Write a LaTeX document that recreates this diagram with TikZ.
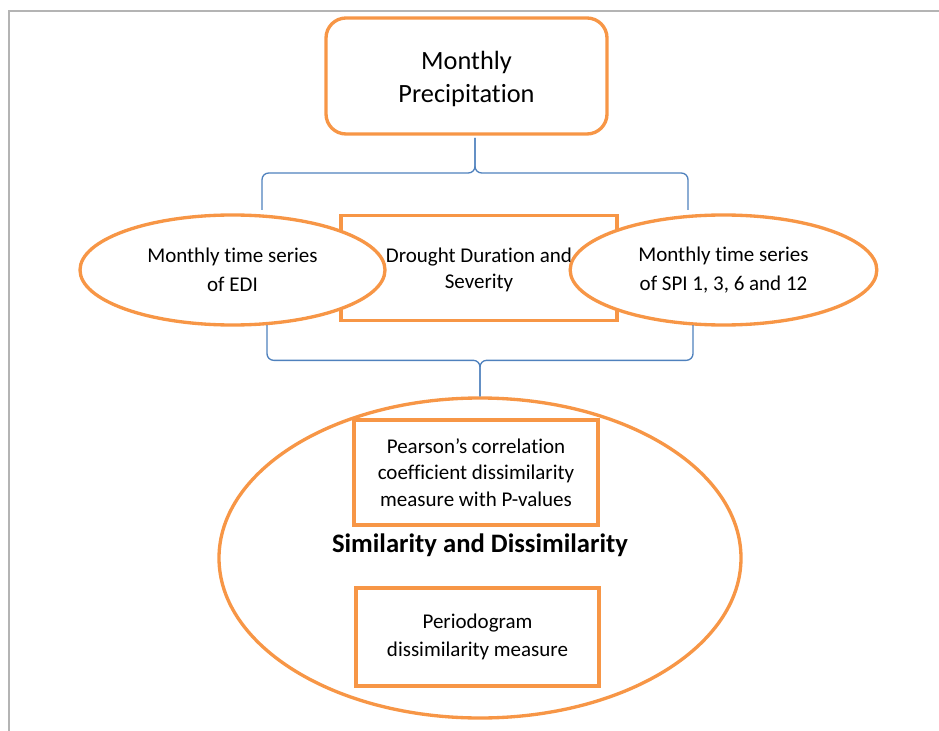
\documentclass[tikz,border=0pt]{standalone}
\usepackage{fontspec}
\setmainfont{Carlito}[Ligatures=NoCommon]
\usetikzlibrary{shapes.geometric,calc}
\definecolor{accorange}{RGB}{247,150,70}
\definecolor{accblue}{RGB}{79,129,189}
\definecolor{pagegray}{RGB}{180,180,180}
\begin{document}
\begin{tikzpicture}[x=0.75pt,y=-0.75pt,
    obox/.style={draw=accorange,line width=2.5pt,fill=white,align=center,inner sep=0pt},
    oell/.style={obox,ellipse},
    txt/.style={font=\fontsize{15.75}{22}\selectfont},
    brace/.style={draw=accblue,line width=1pt,rounded corners=5pt}]
    \useasboundingbox (0,0) rectangle (939,731);
    \draw [pagegray,line width=1.1pt] (939,11) -- (9,11) -- (9,731);
    % top box
    \node (prec) [obox,rounded corners=15pt,minimum width=210.75pt,minimum height=87pt,
      font=\fontsize{19.75}{24.75}\selectfont] at (466.5,76) {\\[-6pt]Monthly\\Precipitation};
    % middle row
    \node (dur) [obox,minimum width=207pt,minimum height=78.75pt] at (479,268) {};
    \node (edi) [oell,txt,minimum width=228.75pt,minimum height=82.5pt] at (232.5,270) {Monthly time series\\of EDI};
    \node (spi) [oell,txt,minimum width=230pt,minimum height=82.5pt] at (723.5,270) {Monthly time series\\of SPI 1, 3, 6 and 12};
    \node (durtxt) [align=center,font=\fontsize{15.75}{19.5}\selectfont] at (479,270) {Drought Duration and\\Severity};
    % upper brace
    \coordinate (ua) at (262,210);
    \coordinate (ub) at (688,210);
    \coordinate (ut) at (475,138);
    \draw [brace] (ua) |- ($(ut)+(0,35)$) -- (ut);
    \draw [brace] (ub) |- ($(ut)+(0,35)$) -- (ut);
    % bottom ellipse
    \node (sim) [oell,minimum width=391.5pt,minimum height=240pt] at (480,558) {};
    \node (simtxt) [font=\bfseries\fontsize{20}{24}\selectfont] at (480,545) {Similarity and Dissimilarity};
    \node (pear) [obox,minimum width=183pt,minimum height=78.75pt,
      font=\fontsize{15.75}{20}\selectfont] at (476,472.5) {Pearson's correlation\\coefficient dissimilarity\\measure with P-values};
    \node (peri) [obox,minimum width=182.25pt,minimum height=73.5pt,
      font=\fontsize{15.75}{21}\selectfont] at (477.5,637) {Periodogram\\dissimilarity measure};
    % lower brace
    \coordinate (la) at (267,325);
    \coordinate (lb) at (693,325);
    \coordinate (lt) at (sim.north);
    \draw [brace] (la) |- ($(lt)+(0,-36)$) -- (lt);
    \draw [brace] (lb) |- ($(lt)+(0,-36)$) -- (lt);
  \end{tikzpicture}
\end{document}
